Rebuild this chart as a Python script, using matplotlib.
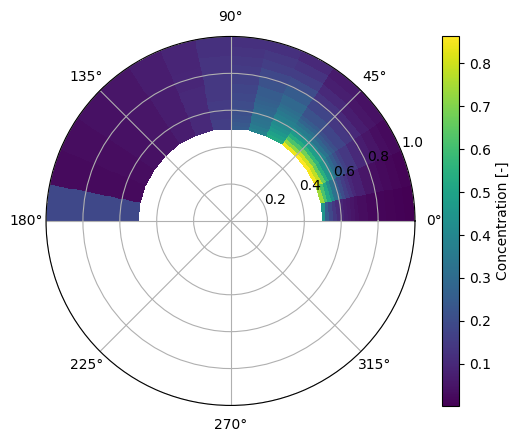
import numpy as np
import matplotlib
matplotlib.use('Agg')
import matplotlib.pyplot as plt

# angular bins (deg) and radial ring edges
theta_edges_deg = [0, 11.25, 22.5, 33.75, 45, 56.25, 67.5, 78.75, 90,
                   101.25, 112.5, 123.75, 135, 146.25, 157.5, 168.75, 180]
r_edges = [0.50, 0.52, 0.54, 0.56, 0.58, 0.60, 0.62, 0.64, 0.66, 0.68,
           0.70, 0.75, 0.80, 0.85, 0.90, 0.95, 1.00]

# concentration per angular bin, inner ring -> outer ring
conc_00 = [0.45, 0.26, 0.19, 0.14, 0.11, 0.09, 0.07, 0.06, 0.05, 0.04, 0.03, 0.02, 0.015, 0.01, 0.008, 0.005]
conc_01 = [0.74, 0.62, 0.52, 0.42, 0.33, 0.26, 0.20, 0.16, 0.13, 0.10, 0.08, 0.05, 0.035, 0.025, 0.018, 0.012]
conc_02 = [0.85, 0.78, 0.66, 0.55, 0.45, 0.37, 0.30, 0.25, 0.21, 0.17, 0.14, 0.10, 0.07, 0.05, 0.035, 0.025]
conc_03 = [0.86, 0.80, 0.68, 0.57, 0.48, 0.40, 0.33, 0.28, 0.24, 0.21, 0.18, 0.14, 0.10, 0.07, 0.05, 0.04]
conc_04 = [0.84, 0.72, 0.62, 0.54, 0.47, 0.41, 0.36, 0.32, 0.28, 0.25, 0.22, 0.18, 0.13, 0.10, 0.075, 0.06]
conc_05 = [0.52, 0.49, 0.46, 0.43, 0.41, 0.39, 0.37, 0.35, 0.33, 0.31, 0.29, 0.25, 0.20, 0.16, 0.13, 0.10]
conc_06 = [0.38, 0.36, 0.34, 0.33, 0.32, 0.30, 0.29, 0.28, 0.27, 0.26, 0.25, 0.22, 0.19, 0.16, 0.14, 0.12]
conc_07 = [0.25, 0.24, 0.23, 0.22, 0.21, 0.21, 0.20, 0.20, 0.19, 0.19, 0.18, 0.17, 0.15, 0.14, 0.13, 0.12]
conc_08 = [0.16, 0.16, 0.16, 0.15, 0.15, 0.15, 0.15, 0.15, 0.14, 0.14, 0.14, 0.14, 0.13, 0.13, 0.12, 0.12]
conc_09 = [0.10, 0.10, 0.10, 0.10, 0.10, 0.10, 0.10, 0.10, 0.10, 0.10, 0.10, 0.095, 0.095, 0.09, 0.09, 0.09]
conc_10 = [0.07, 0.07, 0.07, 0.07, 0.07, 0.07, 0.07, 0.07, 0.07, 0.07, 0.07, 0.07, 0.07, 0.07, 0.07, 0.07]
conc_11 = [0.05, 0.05, 0.05, 0.05, 0.05, 0.05, 0.05, 0.05, 0.05, 0.05, 0.05, 0.05, 0.05, 0.05, 0.05, 0.05]
conc_12 = [0.04, 0.04, 0.04, 0.04, 0.04, 0.04, 0.04, 0.04, 0.04, 0.04, 0.04, 0.04, 0.04, 0.04, 0.04, 0.04]
conc_13 = [0.03, 0.03, 0.03, 0.03, 0.03, 0.03, 0.03, 0.03, 0.03, 0.03, 0.03, 0.03, 0.03, 0.03, 0.03, 0.03]
conc_14 = [0.025, 0.025, 0.025, 0.025, 0.025, 0.025, 0.025, 0.025, 0.025, 0.025, 0.025, 0.025, 0.025, 0.025, 0.025, 0.025]
conc_15 = [0.19, 0.19, 0.19, 0.19, 0.19, 0.19, 0.19, 0.19, 0.19, 0.19, 0.19, 0.19, 0.19, 0.19, 0.19, 0.19]

conc = np.array([conc_00, conc_01, conc_02, conc_03, conc_04, conc_05, conc_06, conc_07,
                 conc_08, conc_09, conc_10, conc_11, conc_12, conc_13, conc_14, conc_15])

theta = np.deg2rad(theta_edges_deg)
T, R = np.meshgrid(theta, r_edges, indexing='ij')

fig = plt.figure(figsize=(5.2, 4.42), dpi=100)
ax = fig.add_axes([0.0885, 0.0826, 0.7096, 0.835], projection='polar')
mesh = ax.pcolormesh(T, R, conc, cmap='viridis', vmin=0.002, vmax=0.863, shading='flat')
ax.set_ylim(0, 1.0)
ax.grid(True)

cax = fig.add_axes([0.850, 0.0814, 0.0327, 0.837])
cb = fig.colorbar(mesh, cax=cax)
cb.set_label('Concentration [-]')

fig.savefig('out.png', dpi=100)
